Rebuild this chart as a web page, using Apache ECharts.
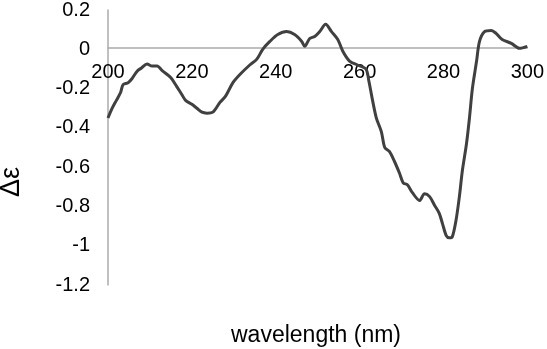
<!DOCTYPE html>
<html>
<head>
<meta charset="utf-8">
<script src="https://cdn.jsdelivr.net/npm/echarts@6/dist/echarts.min.js"></script>
<style>
html,body{margin:0;padding:0;background:#fff;}
#chart{width:547px;height:349px;}
</style>
</head>
<body>
<div id="chart"></div>
<script>
var wavelength = [200,201,202,203,203.6,204.8,205.7,207,208,209.3,210.5,211.7,213,215,216.4,217.6,218.5,220,221.2,222.4,223.6,225,226.7,228,229.8,231.4,233.8,235.5,236.9,238.6,240.5,242.6,244.5,246.2,246.9,248.1,249.3,250.5,251.9,253.3,254.8,256,257.6,259.5,261.5,262.2,263,264,265.2,266,267.1,268.3,269.5,270.4,271.4,272.6,274.3,275.5,276.7,277.9,279,279.8,280.7,281.4,282.1,283,283.8,284.5,285.5,286.2,286.9,287.9,288.6,289.8,291.4,292.6,294,296.2,298.1,300];
var deltaEps = [-0.35,-0.30,-0.26,-0.22,-0.18,-0.17,-0.15,-0.11,-0.095,-0.075,-0.085,-0.085,-0.11,-0.145,-0.19,-0.23,-0.26,-0.28,-0.30,-0.32,-0.325,-0.32,-0.27,-0.24,-0.17,-0.13,-0.08,-0.05,0.0,0.04,0.075,0.09,0.075,0.04,0.015,0.055,0.065,0.09,0.127,0.09,0.05,-0.01,-0.06,-0.08,-0.10,-0.16,-0.25,-0.35,-0.42,-0.50,-0.52,-0.57,-0.63,-0.68,-0.69,-0.73,-0.77,-0.735,-0.75,-0.795,-0.835,-0.89,-0.95,-0.96,-0.955,-0.87,-0.75,-0.62,-0.48,-0.35,-0.20,-0.06,0.04,0.09,0.096,0.08,0.05,0.03,0.005,0.015];
var xTitle = 'wavelength (nm)';
var yTitle = 'Δε';

var pts = wavelength.map(function(w,i){return [w, deltaEps[i]];});
var chart = echarts.init(document.getElementById('chart'), null, {renderer:'canvas'});
var font = 'Liberation Sans, Arial, sans-serif';
chart.setOption({
  animation:false,
  grid:{left:108,right:19,top:8.5,bottom:64},
  xAxis:{type:'value',min:200,max:300,interval:20,position:'bottom',offset:-237,
    axisLine:{onZero:false,lineStyle:{color:'#ababab',width:1.5}},
    axisTick:{show:false},splitLine:{show:false},
    axisLabel:{margin:14,color:'#000',fontSize:20,fontFamily:font}},
  yAxis:{type:'value',min:-1.2,max:0.2,interval:0.2,
    axisLine:{show:true,onZero:false,lineStyle:{color:'#ababab',width:1.5}},
    axisTick:{show:false},splitLine:{show:false},
    axisLabel:{margin:18,color:'#000',fontSize:20,fontFamily:font}},
  graphic:[
    {type:'text',style:{text:xTitle,x:0,y:0,fill:'#000',font:'23px '+font,textAlign:'center',textVerticalAlign:'middle'},position:[316,336]},
    {type:'text',rotation:Math.PI/2,position:[12,182],style:{text:yTitle,fill:'#000',font:'27px '+font,textAlign:'center',textVerticalAlign:'middle'}}
  ],
  series:[{type:'line',data:pts,showSymbol:false,smooth:0.3,
    lineStyle:{color:'#404040',width:3}}]
});
</script>
</body>
</html>
